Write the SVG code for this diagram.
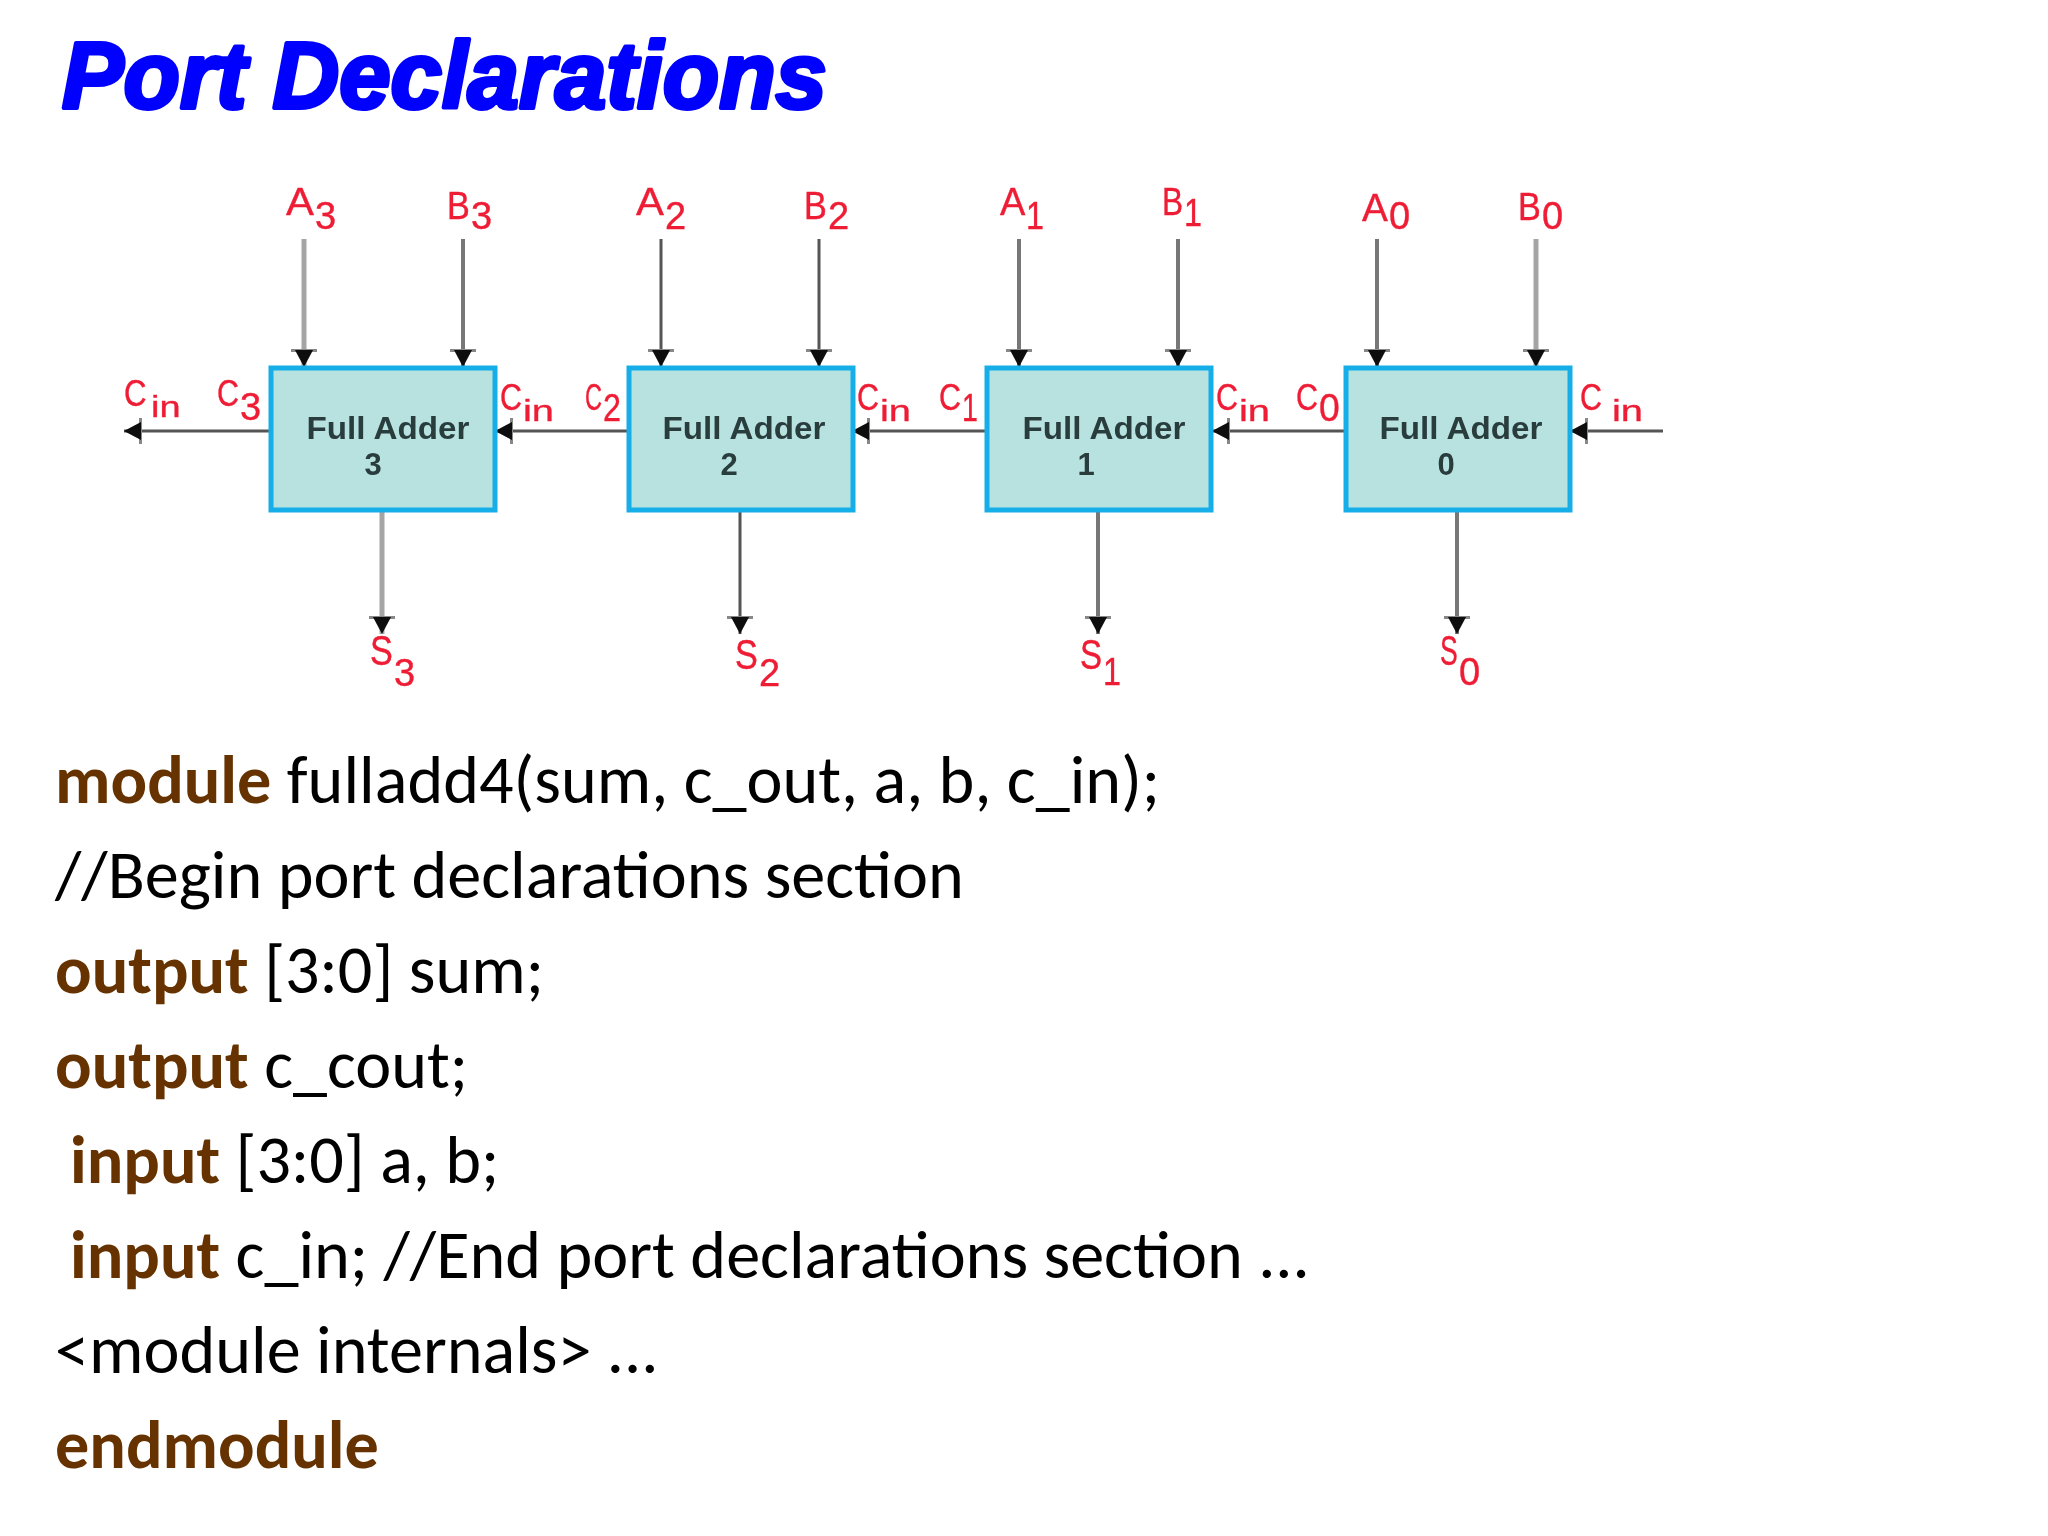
<svg xmlns="http://www.w3.org/2000/svg" width="2048" height="1536" viewBox="0 0 2048 1536">
<style>
.title{font:italic bold 94px "Liberation Sans",Arial,sans-serif;fill:#0000ff;stroke:#0000ff;stroke-width:4;stroke-linejoin:round}
.code{font:68.2px "Carlito","Lato",sans-serif;fill:#000}
.kw{font-weight:bold;fill:#663300}
.r{font:38px "Liberation Sans",Arial,sans-serif;fill:#ee1c34;stroke:#ee1c34;stroke-width:.4}
.fa{font:bold 31px "Liberation Sans",Arial,sans-serif;fill:#2a3c3e;text-anchor:middle}
.box{fill:#b7e2e0;stroke:#12aee8;stroke-width:5}
.w{stroke:#555;stroke-width:3;fill:none;marker-end:url(#ah)}
.m{stroke:#777;stroke-width:4}
.l{stroke:#a5a5a5;stroke-width:5}
</style>
<defs>
<marker id="ah" markerUnits="userSpaceOnUse" markerWidth="20" markerHeight="28" refX="18" refY="14" orient="auto">
<path d="M0 1H3V27H0Z" fill="#888"/><path d="M1 5L18 14L1 23Z" fill="#0a0a0a"/>
</marker>
<filter id="soft"><feGaussianBlur stdDeviation="0.7"/></filter>
</defs>
<rect width="2048" height="1536" fill="#fff"/>
<text class="title" x="62" y="108" textLength="765" lengthAdjust="spacingAndGlyphs">Port Declarations</text>
<g id="connectors" filter="url(#soft)">
<path class="w l" d="M304 239V367"/><path class="w m" d="M463 239V367"/>
<path class="w" d="M661 239V367"/><path class="w" d="M819 239V367"/>
<path class="w m" d="M1019 239V367"/><path class="w m" d="M1178 239V367"/>
<path class="w m" d="M1377 239V367"/><path class="w l" d="M1536 239V367"/>
<path class="w l" d="M382 511V634"/><path class="w" d="M740 511V634"/>
<path class="w m" d="M1098 511V634"/><path class="w m" d="M1457 511V634"/>
<path class="w" d="M270 431H124"/><path class="w" d="M628 431H495"/>
<path class="w" d="M986 431H852"/><path class="w" d="M1345 431H1212"/>
<path class="w" d="M1663 431H1570"/>
</g>
<g id="fa3" filter="url(#soft)"><rect class="box" x="271" y="368" width="224" height="142"/><text class="fa" x="388" y="439" textLength="163" lengthAdjust="spacingAndGlyphs">Full Adder</text><text class="fa" x="373" y="475">3</text></g>
<g id="fa2" filter="url(#soft)"><rect class="box" x="629" y="368" width="224" height="142"/><text class="fa" x="744" y="439" textLength="163" lengthAdjust="spacingAndGlyphs">Full Adder</text><text class="fa" x="729" y="475">2</text></g>
<g id="fa1" filter="url(#soft)"><rect class="box" x="987" y="368" width="224" height="142"/><text class="fa" x="1104" y="439" textLength="163" lengthAdjust="spacingAndGlyphs">Full Adder</text><text class="fa" x="1086" y="475">1</text></g>
<g id="fa0" filter="url(#soft)"><rect class="box" x="1346" y="368" width="224" height="142"/><text class="fa" x="1461" y="439" textLength="163" lengthAdjust="spacingAndGlyphs">Full Adder</text><text class="fa" x="1446" y="475">0</text></g>
<g id="labels" filter="url(#soft)">
<text class="r" transform="translate(286 215) scale(1.1 1)">A</text><text class="r" x="315" y="229">3</text>
<text class="r" transform="translate(447 219) scale(.9 1)">B</text><text class="r" x="471" y="229">3</text>
<text class="r" transform="translate(636 215) scale(1.1 1)">A</text><text class="r" x="665" y="229">2</text>
<text class="r" transform="translate(804 219) scale(.9 1)">B</text><text class="r" x="828" y="229">2</text>
<text class="r" transform="translate(1000 215)">A</text><text class="r" transform="translate(1026 229) scale(.85 1)">1</text>
<text class="r" transform="translate(1162 215) scale(.83 1)">B</text><text class="r" transform="translate(1184 226) scale(.85 1)">1</text>
<text class="r" transform="translate(1362 221) scale(1.02 1)">A</text><text class="r" x="1389" y="229">0</text>
<text class="r" transform="translate(1518 220) scale(.9 1)">B</text><text class="r" x="1542" y="229">0</text>
<text class="r" transform="translate(124 406) scale(.82 .95)">C</text><text class="r" transform="translate(151 417) scale(1 .78)">in</text>
<text class="r" transform="translate(217 406) scale(.8 .95)">C</text><text class="r" transform="translate(240 420) scale(1 1)">3</text>
<text class="r" transform="translate(500 410) scale(.8 .95)">C</text><text class="r" transform="translate(523 421) scale(1.05 .78)">in</text>
<text class="r" transform="translate(585 410) scale(.62 .95)">C</text><text class="r" transform="translate(603 421) scale(.85 1)">2</text>
<text class="r" transform="translate(857 410) scale(.8 .95)">C</text><text class="r" transform="translate(880 421) scale(1.05 .78)">in</text>
<text class="r" transform="translate(939 410) scale(.8 .95)">C</text><text class="r" transform="translate(962 421) scale(.75 1)">1</text>
<text class="r" transform="translate(1216 410) scale(.8 .95)">C</text><text class="r" transform="translate(1239 421) scale(1.05 .78)">in</text>
<text class="r" transform="translate(1296 410) scale(.8 .95)">C</text><text class="r" transform="translate(1319 421) scale(.98 1)">0</text>
<text class="r" transform="translate(1580 410) scale(.8 .95)">C</text><text class="r" transform="translate(1612 421) scale(1.05 .78)">in</text>
<text class="r" transform="translate(370 665) scale(.9 1.1)">S</text><text class="r" x="394" y="686">3</text>
<text class="r" transform="translate(735 669) scale(.9 1.1)">S</text><text class="r" x="759" y="686">2</text>
<text class="r" transform="translate(1080 669) scale(.87 1.1)">S</text><text class="r" transform="translate(1103 685) scale(.85 1)">1</text>
<text class="r" transform="translate(1440 665) scale(.7 1.1)">S</text><text class="r" x="1459" y="685">0</text>
</g>
<g id="code">
<text class="code" x="55" y="803"><tspan class="kw">module</tspan> fulladd4(sum, c_out, a, b, c_in);</text>
<text class="code" x="55" y="898">//Begin port declarations section</text>
<text class="code" x="55" y="993"><tspan class="kw">output</tspan> [3:0] sum;</text>
<text class="code" x="55" y="1088"><tspan class="kw">output</tspan> c_cout;</text>
<text class="code" x="70" y="1183"><tspan class="kw">input</tspan> [3:0] a, b;</text>
<text class="code" x="70" y="1278"><tspan class="kw">input</tspan> c_in; //End port declarations section ...</text>
<text class="code" x="55" y="1373">&lt;module internals&gt; ...</text>
<text class="code kw" x="55" y="1468">endmodule</text>
</g>
</svg>
